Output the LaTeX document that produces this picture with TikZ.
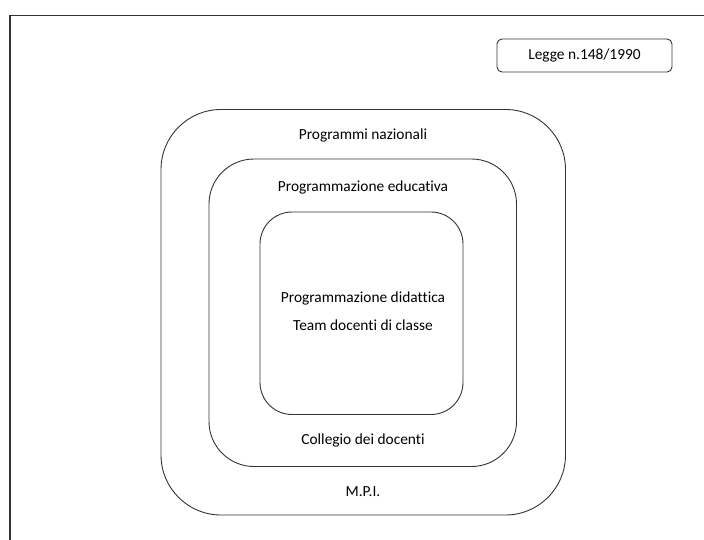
\documentclass[tikz,border=0pt]{standalone}
\usepackage{fontspec}
\setmainfont[Ligatures=NoCommon]{Carlito}
\begin{document}
\begin{tikzpicture}[x=1pt,y=-1pt,
  frameline/.style={draw=black!80, line width=1.3pt},
  ring/.style={draw=black!80, line width=0.9pt},
  lbl/.style={font=\fontsize{15.4}{17}\selectfont, text=black, inner sep=0pt},
  tag/.style={draw=black!80, line width=0.9pt, rounded corners=5pt,
    minimum width=175pt, minimum height=33pt, font=\fontsize{15.4}{17}\selectfont, text=black}]
  \useasboundingbox (0,0) rectangle (704,540);
  % page frame (left and top edges)
  \draw[frameline] (10,540) -- (10,15.5) -- (704,15.5);
  % nested levels
  \draw[ring, rounded corners=60pt] (161,109.5) rectangle (565.5,515);
  \draw[ring, rounded corners=45pt] (209,159) rectangle (516.5,466.5);
  \draw[ring, rounded corners=32pt] (260,212) rectangle (463,414.5);
  % labels
  \node[lbl] (pn) at (363,135) {Programmi nazionali};
  \node[lbl] (pe) at (363,187) {Programmazione educativa};
  \node[lbl] (pd) at (363,298) {Programmazione didattica};
  \node[lbl] (td) at (363,325) {Team docenti di classe};
  \node[lbl] (cd) at (363,440) {Collegio dei docenti};
  \node[lbl] (mpi) at (363,492) {M.P.I.};
  \node[tag] (legge) at (584.5,55.5) {Legge n.148/1990};
\end{tikzpicture}
\end{document}
